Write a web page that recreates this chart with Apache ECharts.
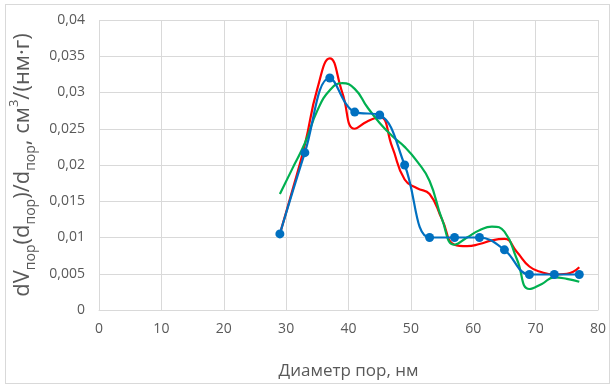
<!DOCTYPE html>
<html>
<head>
<meta charset="utf-8">
<script src="https://cdn.jsdelivr.net/npm/echarts@6/dist/echarts.min.js"></script>
<style>
html,body{margin:0;padding:0;background:#fff;}
#chart{width:616px;height:387px;box-sizing:border-box;}
.frame{position:absolute;left:5px;top:4px;width:605px;height:380px;border:1px solid #d9d9d9;box-sizing:border-box;}
</style>
</head>
<body>
<div class="frame"></div>
<div id="chart"></div>
<script>
// измеренные точки (синяя кривая с маркерами)
var blueX = [29, 33, 37, 41, 45, 49, 53, 57, 61, 65, 69, 73, 77];
var blueY = [0.0105, 0.0217, 0.0320, 0.0273, 0.0269, 0.0200, 0.0100, 0.0100, 0.0100, 0.0083, 0.0049, 0.0049, 0.0049];

// сглаженные кривые без маркеров
var lineX = [29, 31, 33, 35, 37, 39, 41, 43, 45, 47, 49, 51, 53, 55, 57, 59, 61, 63, 65, 67, 69, 71, 73, 75, 77];
var redY = [0.0105, 0.0165, 0.0228, 0.0305, 0.0347, 0.0300, 0.0250, 0.0260, 0.0266, 0.0225, 0.0180, 0.0168, 0.0160, 0.0125, 0.0090, 0.0088, 0.0091, 0.0096, 0.0098, 0.0080, 0.0060, 0.0052, 0.0049, 0.0050, 0.0059];
var greenY = [0.0160, 0.0195, 0.0230, 0.0275, 0.0303, 0.0313, 0.0305, 0.0280, 0.0258, 0.0240, 0.0225, 0.0205, 0.0178, 0.0125, 0.0090, 0.0100, 0.0110, 0.0115, 0.0108, 0.0070, 0.0029, 0.0036, 0.0045, 0.0043, 0.0039];

var xTicks = [0, 10, 20, 30, 40, 50, 60, 70, 80];

function pairs(xs, ys) {
	return xs.map(function (x, i) { return [x, ys[i]]; });
}

var font = "'Open Sans', sans-serif";
var myChart = echarts.init(document.getElementById('chart'));
var option = {
	animation: false,
	grid: {
		left: 99,
		right: 18,
		top: 20,
		bottom: 77,
		containLabel: false,
		outerBoundsMode: 'none'
	},
	xAxis: {
		type: 'value',
		min: xTicks[0],
		max: xTicks[xTicks.length - 1],
		interval: 10,
		name: 'Диаметр пор, нм',
		nameLocation: 'middle',
		nameGap: 53,
		nameTextStyle: { color: '#595959', fontSize: 17, fontFamily: font },
		axisLine: { show: true, lineStyle: { color: '#d9d9d9' } },
		axisTick: { show: false },
		axisLabel: { color: '#595959', fontSize: 14, fontFamily: font, margin: 12 },
		splitLine: { show: true, lineStyle: { color: '#d9d9d9' } }
	},
	yAxis: {
		type: 'value',
		min: 0,
		max: 0.04,
		interval: 0.005,
		name: '{n|dV}{s|пор}{n|(d}{s|пор}{n|)/d}{s|пор}{n|, см}{p|3}{n|/(нм·г)}',
		nameLocation: 'middle',
		nameGap: 63,
		nameTextStyle: {
			color: '#595959',
			fontFamily: font,
			rich: {
				n: { fontSize: 22, fontFamily: font, color: '#595959' },
				s: { fontSize: 14, fontFamily: font, color: '#595959', verticalAlign: 'bottom', padding: [0, 0, -5, 0] },
				p: { fontSize: 13, fontFamily: font, color: '#595959', verticalAlign: 'top', padding: [-4, 0, 0, 0] }
			}
		},
		axisLine: { show: false },
		axisTick: { show: false },
		axisLabel: {
			color: '#595959',
			fontSize: 14,
			fontFamily: font,
			margin: 14,
			formatter: function (v) {
				return String(+v.toFixed(3)).replace('.', ',');
			}
		},
		splitLine: { show: true, lineStyle: { color: '#d9d9d9' } }
	},
	series: [
		{
			name: 'red',
			type: 'line',
			smooth: 0.5,
			showSymbol: false,
			symbol: 'none',
			lineStyle: { color: '#ff0000', width: 2.2 },
			data: pairs(lineX, redY)
		},
		{
			name: 'green',
			type: 'line',
			smooth: 0.5,
			showSymbol: false,
			symbol: 'none',
			lineStyle: { color: '#00b050', width: 2.2 },
			data: pairs(lineX, greenY)
		},
		{
			name: 'blue',
			type: 'line',
			smooth: 0.4,
			symbol: 'circle',
			symbolSize: 9,
			itemStyle: { color: '#0070c0' },
			lineStyle: { color: '#0070c0', width: 2.2 },
			data: pairs(blueX, blueY)
		}
	]
};
myChart.setOption(option);
</script>
</body>
</html>
